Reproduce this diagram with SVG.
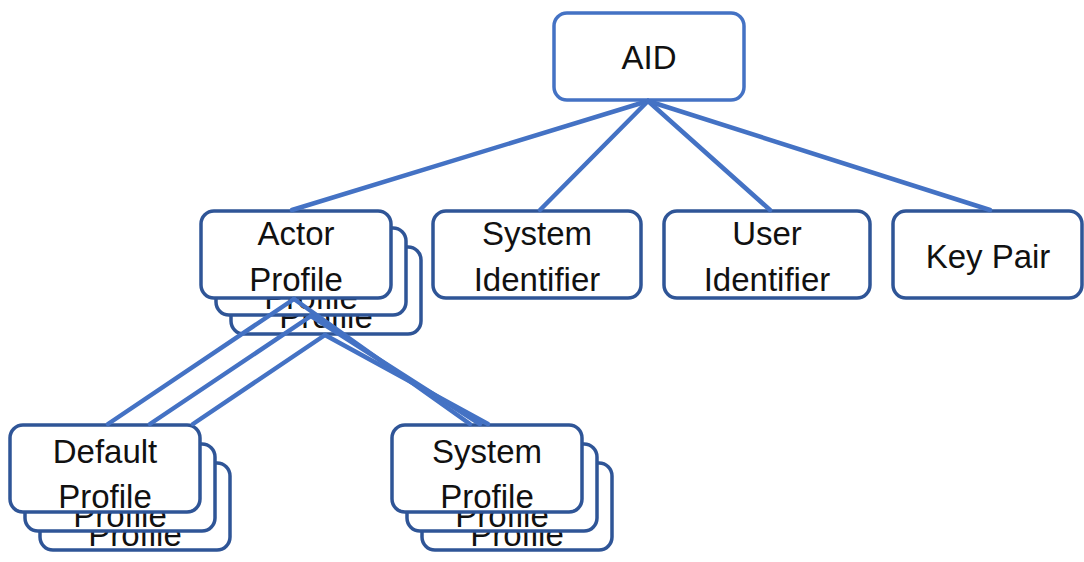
<svg xmlns="http://www.w3.org/2000/svg" width="1084" height="562" viewBox="0 0 1084 562">
<defs>
<style>
.box{fill:#fff;stroke:#2F5597;stroke-width:3.5}
.aid{fill:#fff;stroke:#4472C4;stroke-width:3.5}
.t{font-family:"Liberation Sans",Arial,sans-serif;font-size:33px;fill:#111;text-anchor:middle}
.c{stroke:#4472C4;stroke-width:4.5;fill:none;stroke-linecap:round}
</style>
</defs>
<rect width="1084" height="562" fill="#fff"/>
<g id="aid">
<rect class="aid" x="554" y="13" width="190" height="87" rx="13"/>
<text class="t" x="649" y="69">AID</text>
</g>
<g id="actor-profile">
<rect class="box" x="231" y="247" width="190" height="87" rx="13"/>
<text class="t" x="326" y="328">Profile</text>
<rect class="box" x="216" y="228" width="190" height="87" rx="13"/>
<text class="t" x="311" y="309">Profile</text>
<rect class="box" x="201" y="211" width="190" height="87" rx="13"/>
<text class="t" x="296" y="245">Actor</text>
<text class="t" x="296" y="291">Profile</text>
</g>
<g id="system-identifier">
<rect class="box" x="433" y="211" width="208" height="87" rx="13"/>
<text class="t" x="537" y="245">System</text>
<text class="t" x="537" y="291">Identifier</text>
</g>
<g id="user-identifier">
<rect class="box" x="664" y="211" width="206" height="87" rx="13"/>
<text class="t" x="767" y="245">User</text>
<text class="t" x="767" y="291">Identifier</text>
</g>
<g id="key-pair">
<rect class="box" x="893" y="211" width="189" height="87" rx="13"/>
<text class="t" x="988" y="268">Key Pair</text>
</g>
<g id="default-profile">
<rect class="box" x="40" y="463" width="190" height="87" rx="13"/>
<text class="t" x="135" y="546">Profile</text>
<rect class="box" x="25" y="444" width="190" height="87" rx="13"/>
<text class="t" x="120" y="527">Profile</text>
<rect class="box" x="10" y="425" width="190" height="87" rx="13"/>
<text class="t" x="105" y="463">Default</text>
<text class="t" x="105" y="508">Profile</text>
</g>
<g id="system-profile">
<rect class="box" x="422" y="463" width="190" height="87" rx="13"/>
<text class="t" x="517" y="546">Profile</text>
<rect class="box" x="407" y="444" width="190" height="87" rx="13"/>
<text class="t" x="502" y="527">Profile</text>
<rect class="box" x="392" y="425" width="190" height="87" rx="13"/>
<text class="t" x="487" y="463">System</text>
<text class="t" x="487" y="508">Profile</text>
</g>
<g id="connectors">
<line class="c" x1="648" y1="101" x2="292" y2="210"/>
<line class="c" x1="648" y1="101" x2="540" y2="210"/>
<line class="c" x1="648" y1="101" x2="770" y2="210"/>
<line class="c" x1="648" y1="101" x2="990" y2="210"/>
<line class="c" x1="294" y1="299" x2="108" y2="424"/>
<line class="c" x1="311" y1="316" x2="150" y2="424"/>
<line class="c" x1="325" y1="335" x2="193" y2="424"/>
<line class="c" x1="294" y1="299" x2="470" y2="424"/>
<line class="c" x1="311" y1="316" x2="480" y2="424"/>
<line class="c" x1="325" y1="335" x2="488" y2="424"/>
</g>
</svg>
